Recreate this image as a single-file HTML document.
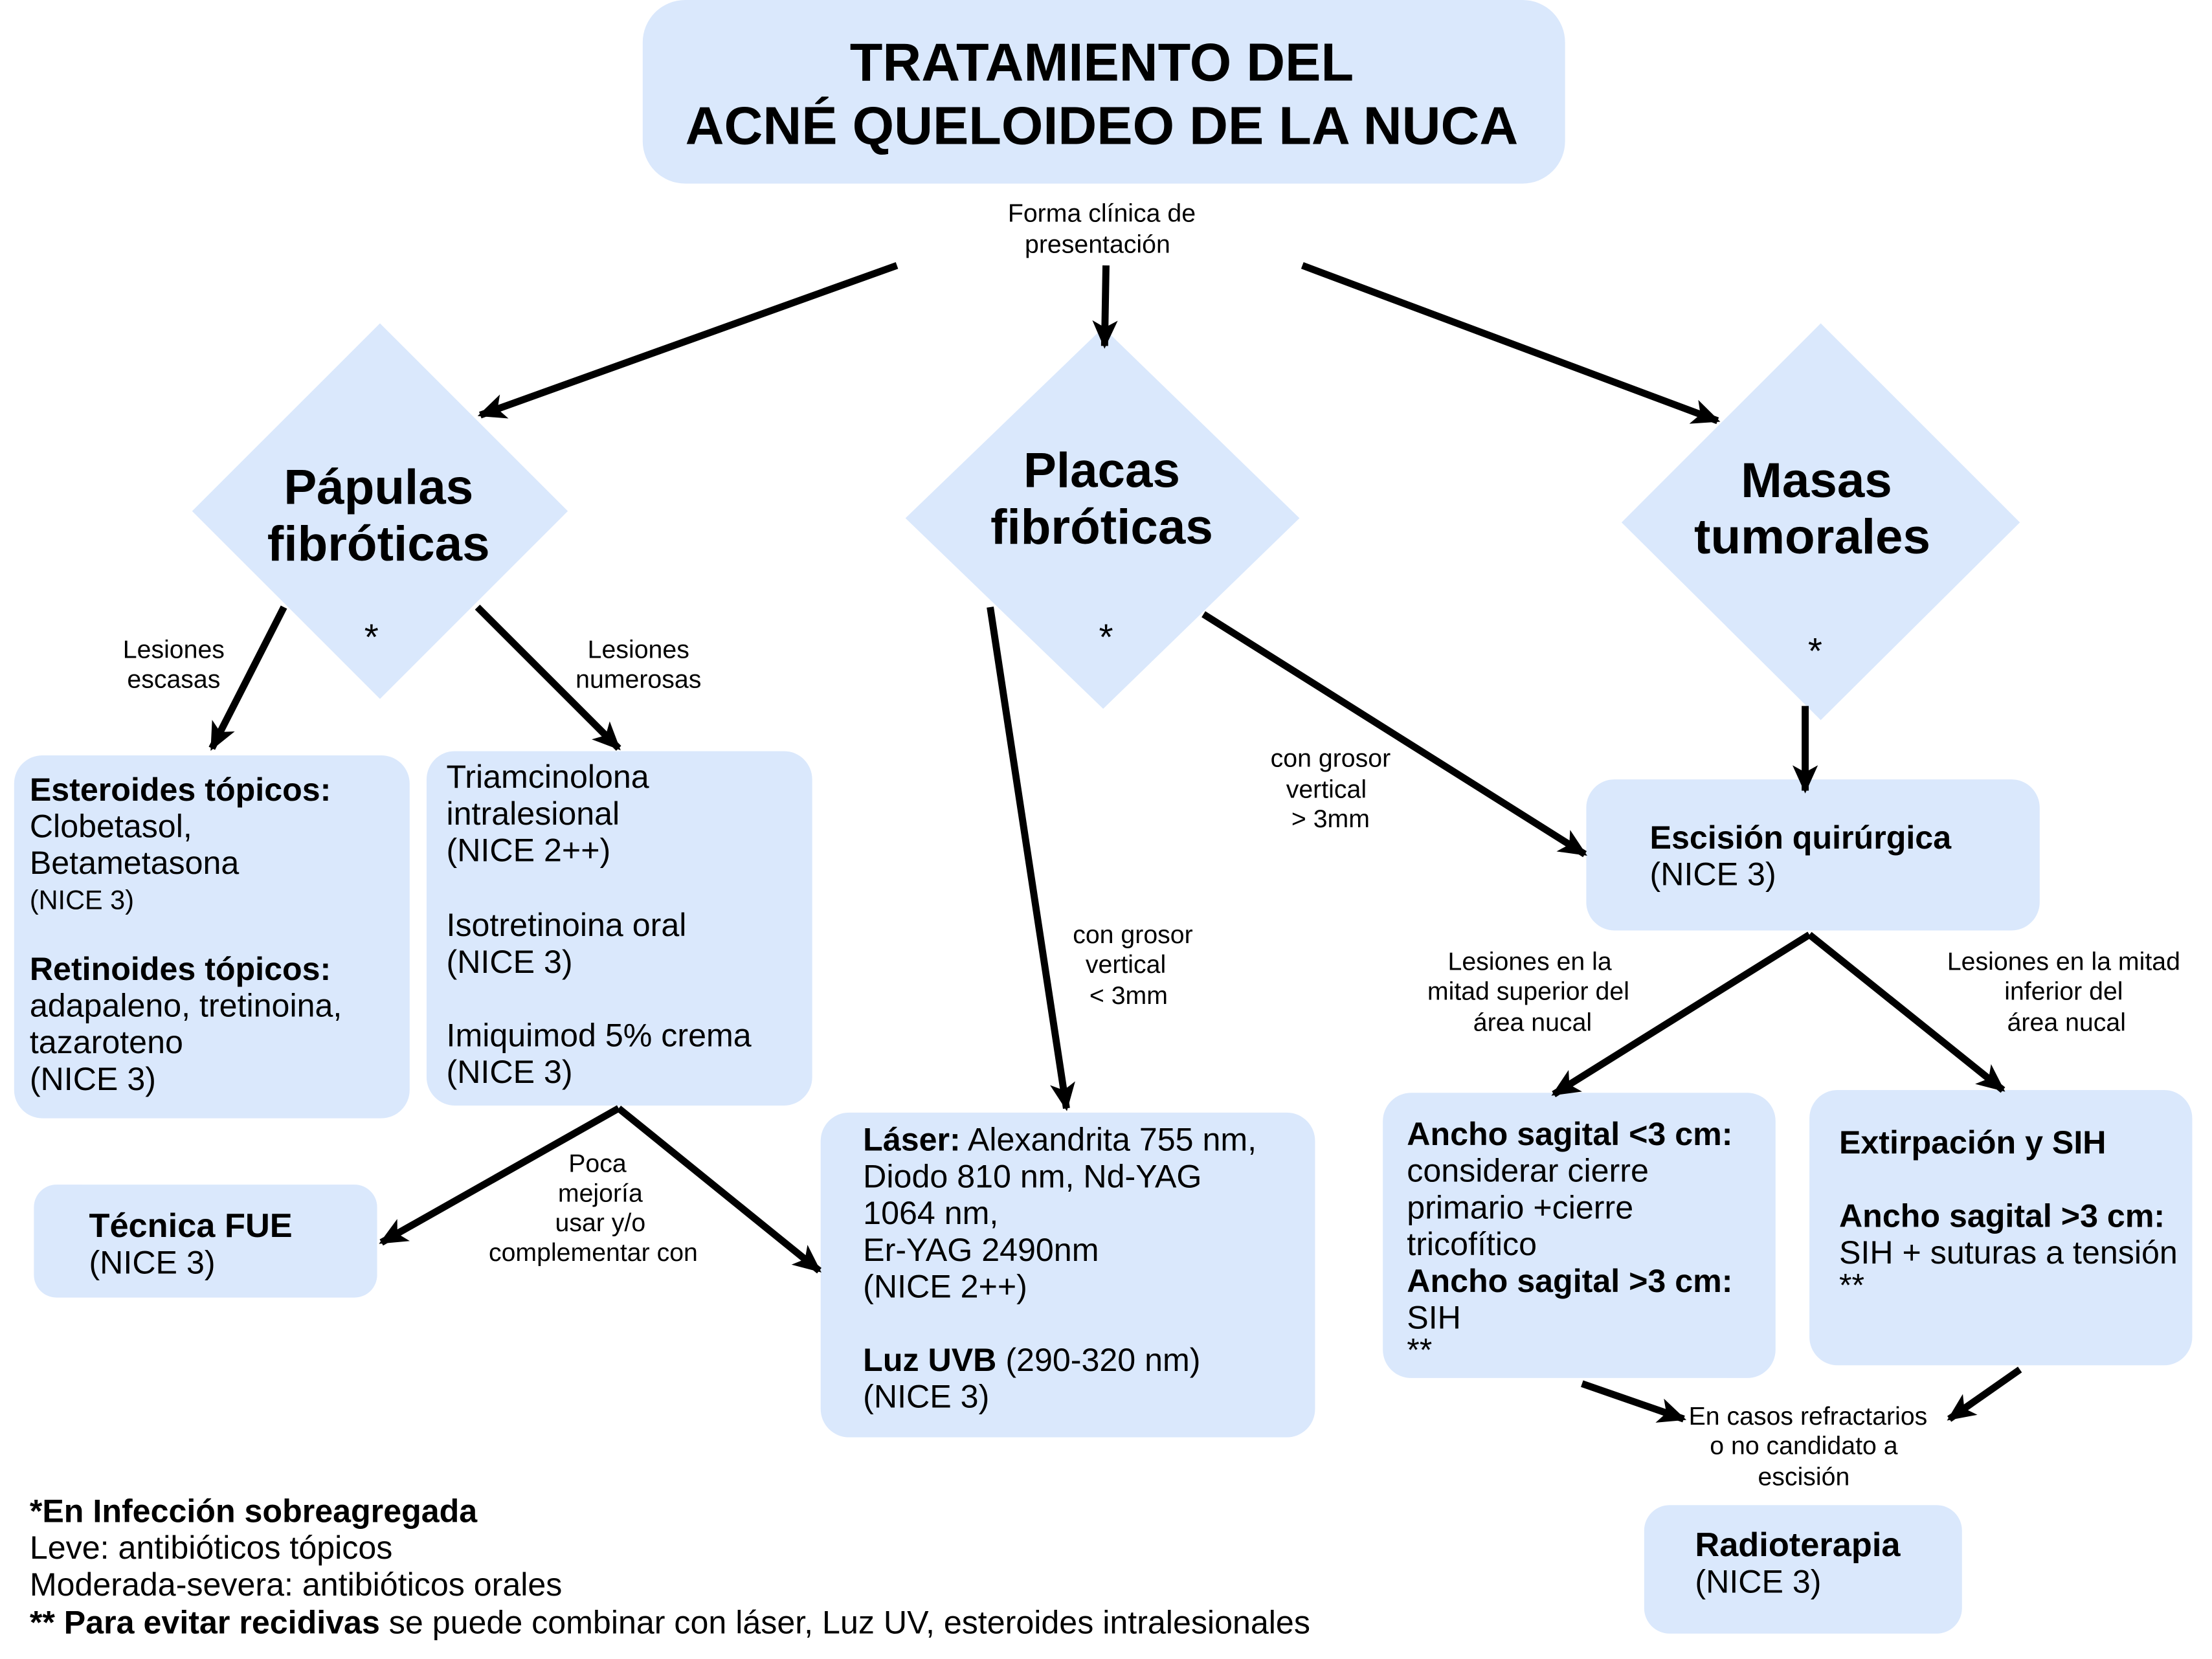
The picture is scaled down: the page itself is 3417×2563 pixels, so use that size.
<!DOCTYPE html>
<html><head><meta charset="utf-8"><style>
html,body{margin:0;padding:0;background:#fff;}
svg{display:block;}
text{font-family:"Liberation Sans",sans-serif;fill:#000;}
.b{font-weight:bold;}
.t{font-size:23px;}
.s{font-size:18px;}
.sm{font-size:19px;}
</style></head><body>
<svg width="3417" height="2563" viewBox="0 0 1566 1175" preserveAspectRatio="none" xmlns="http://www.w3.org/2000/svg">
<defs>
<marker id="a" markerUnits="userSpaceOnUse" markerWidth="22" markerHeight="22" refX="18" refY="11" orient="auto">
<path d="M0,2 L20,11 L0,20 L5,11 Z" fill="#000"/>
</marker>
</defs>
<g fill="#dae8fc">
<rect x="455" y="0" width="653" height="130" rx="30"/>
<polygon points="269,229 402,362 269,495 136,362"/>
<polygon points="781,232 920,367 781,502 641,367"/>
<polygon points="1289,229 1430,370 1289,510 1148,370"/>
<rect x="10" y="535" width="280" height="257" rx="20"/>
<rect x="302" y="532" width="273" height="251" rx="20"/>
<rect x="24" y="839" width="243" height="80" rx="16"/>
<rect x="581" y="788" width="350" height="230" rx="20"/>
<rect x="1123" y="552" width="321" height="107" rx="20"/>
<rect x="979" y="774" width="278" height="202" rx="20"/>
<rect x="1281" y="772" width="271" height="195" rx="20"/>
<rect x="1164" y="1066" width="225" height="91" rx="18"/>
</g>
<g stroke="#000" stroke-width="5" fill="none" marker-end="url(#a)">
<line x1="635" y1="188" x2="340" y2="294"/>
<line x1="783" y1="188" x2="782" y2="245"/>
<line x1="922" y1="188" x2="1216" y2="298"/>
<line x1="201" y1="430" x2="150" y2="530"/>
<line x1="338" y1="430" x2="438" y2="530"/>
<line x1="438" y1="785" x2="270" y2="880"/>
<line x1="438" y1="785" x2="580" y2="900"/>
<line x1="701" y1="430" x2="755" y2="785"/>
<line x1="852" y1="435" x2="1122" y2="605"/>
<line x1="1278" y1="500" x2="1278" y2="560"/>
<line x1="1281" y1="662" x2="1100" y2="775"/>
<line x1="1281" y1="662" x2="1418" y2="772"/>
<line x1="1120" y1="980" x2="1192" y2="1005"/>
<line x1="1430" y1="970" x2="1380" y2="1005"/>
</g>
<g text-anchor="middle">
<text class="b" x="780" y="57" font-size="38">TRATAMIENTO DEL</text>
<text class="b" x="780" y="102" font-size="38">ACNÉ QUELOIDEO DE LA NUCA</text>
<text class="s" x="780" y="157">Forma clínica de</text>
<text class="s" x="777" y="179">presentación</text>
<text class="b" x="268" y="357" font-size="35">Pápulas</text>
<text class="b" x="268" y="397" font-size="35">fibróticas</text>
<text x="263" y="460" font-size="26">*</text>
<text class="b" x="780" y="345" font-size="35">Placas</text>
<text class="b" x="780" y="385" font-size="35">fibróticas</text>
<text x="783" y="460" font-size="26">*</text>
<text class="b" x="1286" y="352" font-size="35">Masas</text>
<text class="b" x="1283" y="392" font-size="35">tumorales</text>
<text x="1285" y="470" font-size="26">*</text>
<text class="s" x="123" y="466">Lesiones</text>
<text class="s" x="123" y="487">escasas</text>
<text class="s" x="452" y="466">Lesiones</text>
<text class="s" x="452" y="487">numerosas</text>
<text class="s" x="423" y="830">Poca</text>
<text class="s" x="425" y="851">mejoría</text>
<text class="s" x="425" y="872">usar y/o</text>
<text class="s" x="420" y="893">complementar con</text>
<text class="s" x="802" y="668">con grosor</text>
<text class="s" x="797" y="689">vertical</text>
<text class="s" x="799" y="711">&lt; 3mm</text>
<text class="s" x="942" y="543">con grosor</text>
<text class="s" x="939" y="565">vertical</text>
<text class="s" x="942" y="586">&gt; 3mm</text>
<text class="s" x="1083" y="687">Lesiones en la</text>
<text class="s" x="1082" y="708">mitad superior del</text>
<text class="s" x="1085" y="730">área nucal</text>
<text class="s" x="1461" y="687">Lesiones en la mitad</text>
<text class="s" x="1461" y="708">inferior del</text>
<text class="s" x="1463" y="730">área nucal</text>
<text class="s" x="1280" y="1009">En casos refractarios</text>
<text class="s" x="1277" y="1030">o no candidato a</text>
<text class="s" x="1277" y="1052">escisión</text>
</g>
<g class="t">
<text class="b" x="21" y="567">Esteroides tópicos:</text>
<text x="21" y="593">Clobetasol,</text>
<text x="21" y="619">Betametasona</text>
<text class="sm" x="21" y="644">(NICE 3)</text>
<text class="b" x="21" y="694">Retinoides tópicos:</text>
<text x="21" y="720">adapaleno, tretinoina,</text>
<text x="21" y="746">tazaroteno</text>
<text x="21" y="772">(NICE 3)</text>

<text x="316" y="558">Triamcinolona</text>
<text x="316" y="584">intralesional</text>
<text x="316" y="610">(NICE 2++)</text>
<text x="316" y="663">Isotretinoina oral</text>
<text x="316" y="689">(NICE 3)</text>
<text x="316" y="741">Imiquimod 5% crema</text>
<text x="316" y="767">(NICE 3)</text>

<text class="b" x="63" y="876" font-size="24">Técnica FUE</text>
<text x="63" y="902">(NICE 3)</text>

<text x="611" y="815"><tspan class="b">Láser:</tspan> Alexandrita 755 nm,</text>
<text x="611" y="841">Diodo 810 nm, Nd-YAG</text>
<text x="611" y="867">1064 nm,</text>
<text x="611" y="893">Er-YAG 2490nm</text>
<text x="611" y="919">(NICE 2++)</text>
<text x="611" y="971"><tspan class="b">Luz UVB</tspan> (290-320 nm)</text>
<text x="611" y="997">(NICE 3)</text>

<text class="b" x="1168" y="601">Escisión quirúrgica</text>
<text x="1168" y="627">(NICE 3)</text>

<text class="b" x="996" y="811">Ancho sagital &lt;3 cm:</text>
<text x="996" y="837">considerar cierre</text>
<text x="996" y="863">primario +cierre</text>
<text x="996" y="889">tricofítico</text>
<text class="b" x="996" y="915">Ancho sagital &gt;3 cm:</text>
<text x="996" y="941">SIH</text>
<text x="996" y="964">**</text>

<text class="b" x="1302" y="817">Extirpación y SIH</text>
<text class="b" x="1302" y="869">Ancho sagital &gt;3 cm:</text>
<text x="1302" y="895">SIH + suturas a tensión</text>
<text x="1302" y="918">**</text>

<text class="b" x="1200" y="1102" font-size="24">Radioterapia</text>
<text x="1200" y="1128">(NICE 3)</text>

<text class="b" x="21" y="1078">*En Infección sobreagregada</text>
<text x="21" y="1104">Leve: antibióticos tópicos</text>
<text x="21" y="1130">Moderada-severa: antibióticos orales</text>
<text x="21" y="1157"><tspan class="b">** Para evitar recidivas</tspan> se puede combinar con láser, Luz UV, esteroides intralesionales</text>
</g>
</svg>
</body></html>
